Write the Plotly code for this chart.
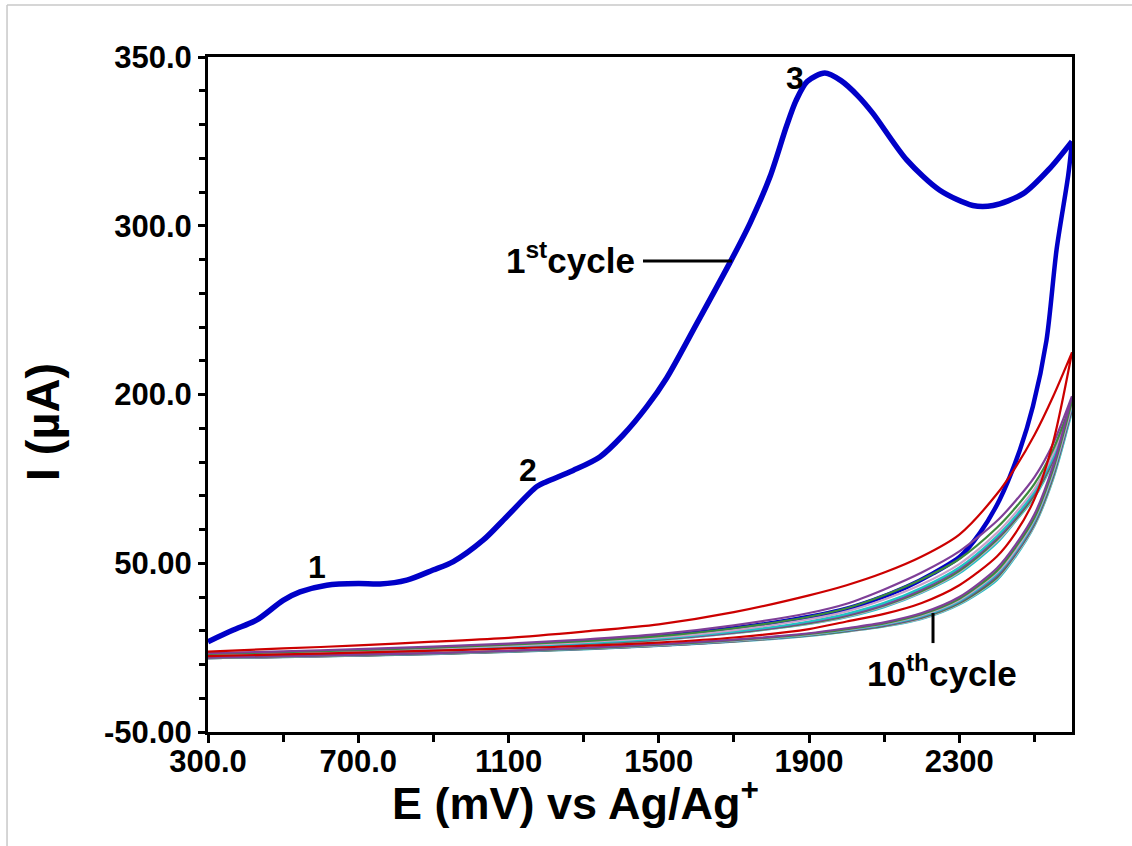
import plotly.graph_objects as go

# ---------------- data ----------------
# 1st cycle, forward scan (mV, uA)
c1_fwd_E = [300, 367, 430, 500, 545, 616, 700, 758, 829, 899, 953, 1033, 1095, 1175, 1201,
            1272, 1343, 1405, 1468, 1521, 1601, 1689, 1743, 1796, 1840, 1865, 1895, 1942, 1985,
            2030, 2070, 2160, 2248, 2336, 2390, 2470, 2541, 2600]
c1_fwd_I = [3.5, 10.4, 16.4, 28.0, 33.0, 37.0, 38.0, 37.7, 40.0, 46.0, 51.0, 63.8, 77.6, 95.4, 98.3,
            105.0, 113.0, 126.0, 142.8, 159.8, 192.0, 228.0, 251.6, 279.0, 309.0, 324.0, 335.5, 340.5, 336.0,
            327.0, 316.6, 289.0, 271.0, 262.0, 262.0, 269.0, 284.0, 300.0]
# 1st cycle, reverse scan
c1_rev_E = [2600, 2590, 2559, 2532, 2496, 2461, 2408, 2355, 2302, 2230, 2160, 2070, 1982,
            1804, 1627, 1450, 1100, 700, 300]
c1_rev_I = [300.0, 280.0, 236.0, 182.0, 143.0, 117.0, 88.0, 68.0, 54.0, 44.0, 36.0, 28.0, 22.0,
            14.6, 9.4, 5.5, 1.0, -2.5, -5.0]

# cycles 2..10: forward and reverse branches
fwd_E = [300, 500, 700, 900, 1100, 1300, 1500, 1700, 1900, 2000, 2100, 2200, 2300, 2400, 2450, 2500, 2550, 2600]
rev_E = [2600, 2550, 2500, 2450, 2400, 2300, 2200, 2100, 2000, 1900, 1700, 1500, 1300, 1100, 900, 700, 500, 300]

c2_fwd = [-2.4, -0.5, 1.3, 3.5, 5.8, 9.5, 13.8, 21.0, 31.0, 37.0, 44.5, 54.0, 67.0, 91.0, 107.0, 126.0, 149.0, 175.0]
c3_fwd = [-3.3, -2.2, -0.9, 0.6, 2.4, 4.8, 8.0, 13.2, 20.5, 26.0, 34.5, 44.5, 57.0, 75.0, 87.0, 101.0, 121.0, 149.0]
c4_fwd = [-3.7, -2.7, -1.5, 0.0, 1.7, 3.9, 6.8, 11.5, 18.3, 23.3, 31.0, 40.5, 52.5, 71.0, 83.0, 97.0, 117.5, 146.0]
c5_fwd = [-4.0, -3.0, -1.9, -0.5, 1.1, 3.2, 6.0, 10.4, 16.8, 21.5, 28.5, 37.5, 49.5, 68.0, 80.0, 94.0, 115.0, 144.0]
c6_fwd = [-4.2, -3.3, -2.2, -0.9, 0.6, 2.6, 5.3, 9.4, 15.5, 20.0, 26.5, 35.5, 47.5, 66.0, 78.0, 92.5, 113.0, 142.5]
c7_fwd = [-4.3, -3.4, -2.4, -1.1, 0.4, 2.4, 5.0, 9.0, 15.0, 19.3, 25.5, 34.5, 46.5, 65.0, 77.0, 91.5, 112.0, 142.0]
c8_fwd = [-4.4, -3.6, -2.6, -1.3, 0.2, 2.2, 4.8, 8.8, 14.5, 18.8, 25.0, 33.5, 45.5, 64.0, 76.0, 90.5, 111.0, 141.0]
c9_fwd = [-4.5, -3.7, -2.7, -1.5, 0.1, 2.1, 4.6, 8.6, 14.2, 18.3, 24.5, 33.0, 44.8, 63.0, 75.5, 90.0, 110.5, 140.5]
c10_fwd = [-4.6, -3.8, -2.8, -1.6, 0.0, 2.0, 4.5, 8.5, 14.0, 18.0, 24.0, 32.5, 44.0, 62.0, 75.0, 89.0, 110.0, 140.0]

c2_rev = [175.0, 122.0, 88.0, 68.0, 54.0, 37.0, 26.5, 20.0, 15.5, 11.0, 6.0, 3.0, 1.0, -0.5, -1.8, -3.0, -4.0, -5.0]
c3_rev = [149.0, 108.0, 79.0, 61.0, 47.0, 30.0, 20.5, 15.0, 11.5, 8.5, 4.7, 2.0, -0.2, -1.9, -3.2, -4.2, -5.1, -5.9]
c4_rev = [146.0, 106.0, 77.0, 59.5, 45.5, 29.0, 19.8, 14.4, 11.0, 8.1, 4.4, 1.7, -0.4, -2.0, -3.3, -4.3, -5.2, -6.0]
c5_rev = [144.0, 104.5, 76.0, 58.0, 44.5, 28.2, 19.2, 14.0, 10.6, 7.8, 4.2, 1.5, -0.5, -2.1, -3.4, -4.4, -5.3, -6.1]
c6_rev = [143.0, 103.5, 75.0, 57.0, 43.5, 27.5, 18.6, 13.6, 10.3, 7.6, 4.0, 1.3, -0.6, -2.2, -3.5, -4.5, -5.4, -6.1]
c7_rev = [142.0, 102.5, 74.0, 56.2, 42.5, 27.0, 18.2, 13.2, 10.0, 7.4, 3.8, 1.2, -0.7, -2.3, -3.6, -4.6, -5.5, -6.2]
c8_rev = [141.5, 101.5, 73.2, 55.5, 41.5, 26.4, 17.7, 12.9, 9.8, 7.2, 3.7, 1.1, -0.8, -2.4, -3.7, -4.7, -5.5, -6.2]
c9_rev = [141.0, 100.8, 72.5, 54.8, 40.8, 26.0, 17.3, 12.7, 9.6, 7.1, 3.6, 1.0, -0.9, -2.5, -3.8, -4.8, -5.6, -6.3]
c10_rev = [140.0, 100.0, 72.0, 54.0, 40.0, 25.5, 17.0, 12.5, 9.5, 7.0, 3.5, 1.0, -1.0, -2.5, -3.8, -4.8, -5.6, -6.3]

cycle_colors = ["#cc0000", "#7f3f98", "#3c8a3c", "#c9a0c9", "#1fc4c4",
                "#7f3f98", "#3c8a3c", "#c9a0c9", "#1fc4c4"]

y_tickvals = [-50, 50, 150, 250, 350]
y_ticktext = ["-50.00", "50.00", "200.0", "300.0", "350.0"]
x_tickvals = [300, 700, 1100, 1500, 1900, 2300]
x_ticktext = ["300.0", "700.0", "1100", "1500", "1900", "2300"]

# ---------------- figure ----------------
fig = go.Figure()

fwd_sets = [c2_fwd, c3_fwd, c4_fwd, c5_fwd, c6_fwd, c7_fwd, c8_fwd, c9_fwd, c10_fwd]
rev_sets = [c2_rev, c3_rev, c4_rev, c5_rev, c6_rev, c7_rev, c8_rev, c9_rev, c10_rev]

# reverse branch of cycle 1 sits beneath the later cycles' upper branches
fig.add_trace(go.Scatter(x=c1_rev_E, y=c1_rev_I, mode="lines",
                         line=dict(color="#0000c8", width=4.5, shape="spline", smoothing=0.8),
                         showlegend=False, hoverinfo="skip"))

for k in range(len(fwd_sets) - 1, -1, -1):
    col = cycle_colors[k]
    fig.add_trace(go.Scatter(x=fwd_E + rev_E, y=fwd_sets[k] + rev_sets[k], mode="lines",
                             line=dict(color=col, width=2.2, shape="spline", smoothing=0.8),
                             showlegend=False, hoverinfo="skip"))

fig.add_trace(go.Scatter(x=c1_fwd_E, y=c1_fwd_I, mode="lines",
                         line=dict(color="#0000c8", width=5.5, shape="spline", smoothing=0.8),
                         showlegend=False, hoverinfo="skip"))

bold = dict(family="Liberation Sans, Arial, sans-serif", color="black", weight="bold")

fig.update_xaxes(range=[300, 2600], tickvals=x_tickvals, ticktext=x_ticktext,
                 showgrid=False, zeroline=False, showline=True, linecolor="black", linewidth=3,
                 mirror=True, ticks="outside", ticklen=8, tickwidth=2.5, tickcolor="black",
                 tickfont=dict(size=31, **bold), ticklabelstandoff=-8,
                 minor=dict(dtick=200, tick0=300, ticks="outside", ticklen=7, tickwidth=2.5,
                            tickcolor="black", showgrid=False))
fig.update_yaxes(range=[-50, 350], tickvals=y_tickvals, ticktext=y_ticktext,
                 showgrid=False, zeroline=False, showline=True, linecolor="black", linewidth=3,
                 mirror=True, ticks="outside", ticklen=7, tickwidth=2.5, tickcolor="black",
                 tickfont=dict(size=31, **bold),
                 minor=dict(dtick=20, tick0=-50, ticks="outside", ticklen=6, tickwidth=2.5,
                            tickcolor="black", showgrid=False))

ann_font = dict(size=32, **bold)
annotations = [
    dict(x=590, y=47.8, text="1", xref="x", yref="y", xanchor="center", yanchor="middle",
         showarrow=False, font=ann_font),
    dict(x=1152, y=105, text="2", xref="x", yref="y", xanchor="center", yanchor="middle",
         showarrow=False, font=ann_font),
    dict(x=1862, y=337.5, text="3", xref="x", yref="y", xanchor="center", yanchor="middle",
         showarrow=False, font=ann_font),
    dict(x=1443, y=231, text="1<sup>st</sup>cycle", xref="x", yref="y", xanchor="right",
         yanchor="middle", showarrow=False, font=dict(size=35, **bold)),
    dict(x=2253, y=-14, text="10<sup>th</sup>cycle", xref="x", yref="y", xanchor="center",
         yanchor="middle", showarrow=False, font=dict(size=35, **bold)),
    dict(x=0.4248, y=-0.101, xref="paper", yref="paper", text="E (mV) vs Ag/Ag<sup>+</sup>",
         xanchor="center", yanchor="middle", showarrow=False, font=dict(size=45, **bold)),
    dict(x=-0.192, y=0.459, xref="paper", yref="paper", text="I (µA)", textangle=-90,
         xanchor="center", yanchor="middle", showarrow=False, font=dict(size=47, **bold)),
]

shapes = [
    dict(type="line", xref="x", yref="y", x0=1458, x1=1695, y0=229.1, y1=229.1,
         line=dict(color="black", width=3)),
    dict(type="line", xref="x", yref="y", x0=2230, x1=2230, y0=20.5, y1=2.7,
         line=dict(color="black", width=3)),
    # outer light frame of the picture
    dict(type="line", xref="paper", yref="paper", x0=-0.2326, x1=1.1, y0=1.077, y1=1.077,
         line=dict(color="#c8c8c8", width=1.5)),
    dict(type="line", xref="paper", yref="paper", x0=-0.2326, x1=-0.2326, y0=1.077, y1=-0.2,
         line=dict(color="#c8c8c8", width=1.5)),
]

fig.update_layout(width=1132, height=846, margin=dict(l=208, r=60, t=57, b=114, autoexpand=False),
                  paper_bgcolor="white", plot_bgcolor="white",
                  annotations=annotations, shapes=shapes, showlegend=False)

fig.write_html("out.html")
